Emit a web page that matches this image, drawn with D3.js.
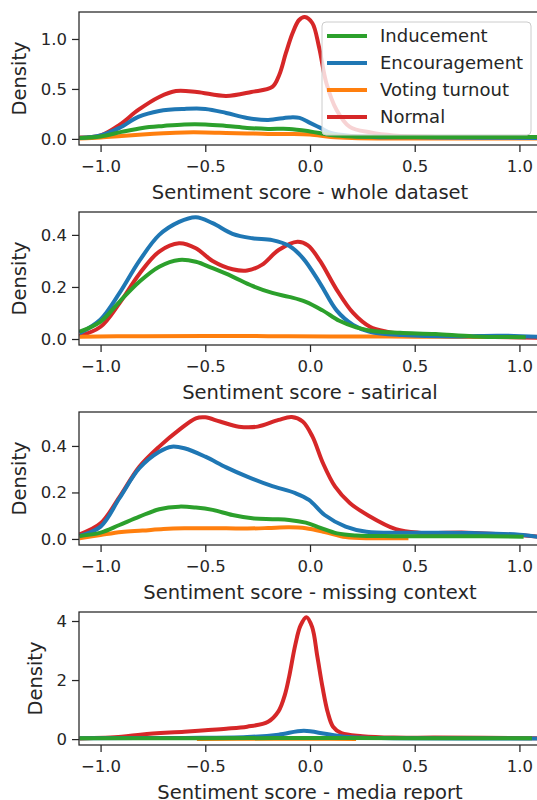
<!DOCTYPE html>
<html>
<head>
<meta charset="utf-8">
<script src="https://cdn.jsdelivr.net/npm/d3@7"></script>
<style>
	body { margin: 0; background: #fff; }
	text { font-family: "DejaVu Sans", sans-serif; fill: #262626; }
</style>
</head>
<body>
<script>

// legend order and colours (matplotlib tab10)
var categories = ["Inducement", "Encouragement", "Voting turnout", "Normal"];
var colors = ["#2ca02c", "#1f77b4", "#ff7f0e", "#d62728"];

var panelTitles = ["Sentiment score - whole dataset", "Sentiment score - satirical",
	"Sentiment score - missing context", "Sentiment score - media report"];

var xTicks = [-1.0, -0.5, 0.0, 0.5, 1.0];
var yTicks = [[0, 0.5, 1.0], [0, 0.2, 0.4], [0, 0.2, 0.4], [0, 2, 4]];
var yTickLabels = [["0.0", "0.5", "1.0"], ["0.0", "0.2", "0.4"], ["0.0", "0.2", "0.4"], ["0", "2", "4"]];
var yDomains = [[-0.061, 1.27], [-0.023, 0.488], [-0.026, 0.546], [-0.2, 4.305]];

// density curves, [score, density]
var wholeInducement = [[-1.1,0.01],[-1.0,0.025],[-0.9,0.07],[-0.8,0.11],[-0.7,0.13],[-0.6,0.145],[-0.5,0.145],[-0.4,0.13],[-0.3,0.11],[-0.2,0.1],[-0.1,0.1],[0.0,0.075],[0.1,0.04],[0.2,0.025],[0.4,0.02],[0.8,0.02],[1.1,0.02]];
var wholeEncouragement = [[-1.1,0.01],[-1.0,0.035],[-0.91,0.11],[-0.82,0.22],[-0.72,0.28],[-0.6,0.3],[-0.5,0.3],[-0.4,0.26],[-0.3,0.21],[-0.2,0.19],[-0.1,0.215],[-0.05,0.21],[0.0,0.16],[0.05,0.11],[0.1,0.06],[0.2,0.03],[0.3,0.02],[0.6,0.015],[1.1,0.01]];
var wholeTurnout = [[-1.1,0.005],[-1.0,0.015],[-0.9,0.03],[-0.8,0.045],[-0.7,0.057],[-0.6,0.065],[-0.5,0.065],[-0.4,0.06],[-0.3,0.055],[-0.2,0.05],[-0.1,0.05],[0.0,0.045],[0.1,0.02],[0.2,0.01],[0.4,0.005],[1.1,0.005]];
var wholeNormal = [[-1.1,0.013],[-1.0,0.035],[-0.91,0.14],[-0.82,0.29],[-0.72,0.42],[-0.64,0.48],[-0.54,0.47],[-0.4,0.43],[-0.28,0.47],[-0.18,0.52],[-0.147,0.64],[-0.115,0.86],[-0.083,1.06],[-0.052,1.19],[-0.025,1.22],[0.011,1.16],[0.043,0.92],[0.078,0.56],[0.127,0.29],[0.19,0.12],[0.29,0.065],[0.4,0.035],[0.6,0.02],[1.1,0.015]];

var satInducement = [[-1.1,0.028],[-1.0,0.067],[-0.91,0.143],[-0.815,0.22],[-0.72,0.278],[-0.625,0.304],[-0.545,0.297],[-0.465,0.272],[-0.37,0.24],[-0.275,0.204],[-0.18,0.177],[-0.1,0.162],[-0.02,0.143],[0.06,0.11],[0.14,0.07],[0.22,0.045],[0.31,0.03],[0.43,0.024],[0.6,0.019],[0.78,0.01],[1.03,0.007]];
var satEncouragement = [[-1.1,0.022],[-1.0,0.075],[-0.91,0.176],[-0.815,0.3],[-0.72,0.4],[-0.625,0.45],[-0.545,0.468],[-0.465,0.445],[-0.37,0.404],[-0.275,0.387],[-0.18,0.38],[-0.1,0.358],[-0.033,0.31],[0.048,0.214],[0.127,0.11],[0.206,0.054],[0.286,0.028],[0.44,0.015],[0.7,0.01],[0.9,0.013],[1.1,0.008]];
var satTurnout = [[-1.1,0.009],[-0.8,0.011],[-0.5,0.012],[-0.2,0.011],[0.1,0.01],[0.5,0.009],[0.91,0.008]];
var satNormal = [[-1.1,0.012],[-1.0,0.047],[-0.91,0.137],[-0.815,0.25],[-0.72,0.336],[-0.625,0.368],[-0.545,0.349],[-0.465,0.3],[-0.37,0.268],[-0.3,0.263],[-0.23,0.285],[-0.15,0.342],[-0.06,0.374],[-0.01,0.36],[0.048,0.3],[0.127,0.19],[0.206,0.1],[0.286,0.047],[0.366,0.028],[0.5,0.015],[0.7,0.01],[1.1,0.005]];

var ctxInducement = [[-1.1,0.013],[-1.0,0.027],[-0.91,0.06],[-0.815,0.096],[-0.72,0.128],[-0.625,0.139],[-0.545,0.135],[-0.465,0.125],[-0.37,0.103],[-0.275,0.089],[-0.18,0.085],[-0.1,0.082],[-0.02,0.07],[0.05,0.048],[0.13,0.024],[0.22,0.015],[0.4,0.012],[0.7,0.012],[1.02,0.01]];
var ctxEncouragement = [[-1.1,0.013],[-1.0,0.053],[-0.91,0.175],[-0.815,0.304],[-0.72,0.375],[-0.66,0.397],[-0.6,0.39],[-0.5,0.354],[-0.4,0.308],[-0.3,0.268],[-0.19,0.23],[-0.07,0.197],[-0.005,0.168],[0.07,0.103],[0.17,0.053],[0.27,0.031],[0.5,0.027],[0.8,0.025],[1.0,0.018],[1.1,0.008]];
var ctxTurnout = [[-1.1,0.003],[-1.0,0.017],[-0.9,0.03],[-0.8,0.036],[-0.7,0.043],[-0.6,0.046],[-0.4,0.046],[-0.3,0.045],[-0.2,0.047],[-0.1,0.05],[-0.02,0.046],[0.07,0.03],[0.17,0.008],[0.3,0.003],[0.47,0.003]];
var ctxNormal = [[-1.1,0.02],[-1.0,0.067],[-0.91,0.18],[-0.815,0.31],[-0.72,0.397],[-0.625,0.469],[-0.545,0.519],[-0.5,0.523],[-0.43,0.505],[-0.34,0.483],[-0.25,0.483],[-0.15,0.512],[-0.087,0.524],[-0.035,0.505],[0.012,0.44],[0.06,0.33],[0.12,0.225],[0.19,0.155],[0.28,0.1],[0.41,0.042],[0.52,0.027],[0.75,0.027],[0.98,0.017],[1.1,0.01]];

var mediaInducement = [[-1.1,0.025],[-0.5,0.03],[0.0,0.035],[0.5,0.03],[1.06,0.025]];
var mediaEncouragement = [[-1.1,0.03],[-0.6,0.04],[-0.3,0.07],[-0.15,0.15],[-0.03,0.28],[0.08,0.17],[0.2,0.06],[0.4,0.03],[1.1,0.02]];
var mediaTurnout = [[-0.54,0.005],[-0.2,0.01],[0.0,0.015],[0.22,0.005]];
var mediaNormal = [[-1.1,0.02],[-0.9,0.08],[-0.8,0.16],[-0.6,0.25],[-0.5,0.3],[-0.4,0.35],[-0.3,0.42],[-0.2,0.59],[-0.15,0.95],[-0.12,1.5],[-0.1,2.1],[-0.07,3.2],[-0.045,3.85],[-0.017,4.13],[0.01,3.8],[0.035,2.8],[0.06,1.75],[0.085,0.9],[0.11,0.42],[0.15,0.2],[0.25,0.1],[0.4,0.05],[0.6,0.05],[1.1,0.03]];

var panelSeries = [
	[wholeInducement, wholeEncouragement, wholeTurnout, wholeNormal],
	[satInducement, satEncouragement, satTurnout, satNormal],
	[ctxInducement, ctxEncouragement, ctxTurnout, ctxNormal],
	[mediaInducement, mediaEncouragement, mediaTurnout, mediaNormal]
];

var w = 537;
var h = 800;
var left = 79;
var right = 541;
var panelTop = [12, 212, 412, 612];
var panelH = 133;

var svg = d3.select("body")
			.append("svg")
			.attr("width", w)
			.attr("height", h);

var xScale = d3.scaleLinear()
			.domain([-1.103, 1.103])
			.range([left, right]);

// drawn back to front so green ends up on top
var drawOrder = [3, 2, 1, 0];

panelSeries.forEach(function(series, p){
	var top = panelTop[p];
	var bottom = top + panelH;

	var yScale = d3.scaleLinear()
				.domain(yDomains[p])
				.range([bottom, top]);

	var line = d3.line()
				.x(function(d){return xScale(d[0]);})
				.y(function(d){return yScale(d[1]);})
				.curve(d3.curveCatmullRom.alpha(0.5));

	svg.append("clipPath")
		.attr("id", "clip" + p)
		.append("rect")
		.attr("x", left)
		.attr("y", top)
		.attr("width", right - left)
		.attr("height", panelH);

	var g = svg.append("g").attr("clip-path", "url(#clip" + p + ")");

	drawOrder.forEach(function(i){
		g.append("path")
			.datum(series[i])
			.attr("d", line)
			.attr("fill", "none")
			.attr("stroke", colors[i])
			.attr("stroke-width", 4)
			.attr("stroke-linejoin", "round")
			.attr("stroke-linecap", "butt");
	});

	var xAxis = d3.axisBottom(xScale)
				.tickValues(xTicks)
				.tickFormat(d3.format(".1f"))
				.tickSize(7)
				.tickSizeOuter(0)
				.tickPadding(8);

	var yAxis = d3.axisLeft(yScale)
				.tickValues(yTicks[p])
				.tickFormat(function(d, i){return yTickLabels[p][i];})
				.tickSize(7)
				.tickSizeOuter(0)
				.tickPadding(5);

	var gx = svg.append("g")
		.attr("transform", "translate(0," + bottom + ")")
		.call(xAxis);
	var gy = svg.append("g")
		.attr("transform", "translate(" + left + ",0)")
		.call(yAxis);

	[gx, gy].forEach(function(a){
		a.select(".domain").remove();
		a.selectAll(".tick line").attr("stroke", "#262626").attr("stroke-width", 1.25);
		a.selectAll(".tick text")
			.attr("font-size", 16.5)
			.attr("font-family", "DejaVu Sans")
			.attr("fill", "#262626");
	});

	// frame
	svg.append("rect")
		.attr("x", left)
		.attr("y", top)
		.attr("width", right - left)
		.attr("height", panelH)
		.attr("fill", "none")
		.attr("stroke", "#262626")
		.attr("stroke-width", 1.25);

	svg.append("text")
		.attr("x", (left + right) / 2)
		.attr("y", bottom + 54)
		.attr("text-anchor", "middle")
		.attr("font-size", 19.5)
		.text(panelTitles[p]);

	// y label sits left of the widest tick label
	var minX = d3.min(gy.selectAll(".tick text").nodes(), function(n){
		return left - 12 - n.getComputedTextLength();
	});
	var cy = (top + bottom) / 2;
	svg.append("text")
		.attr("x", minX - 15)
		.attr("y", cy)
		.attr("text-anchor", "middle")
		.attr("font-size", 19.5)
		.attr("transform", "rotate(-90," + (minX - 15) + "," + cy + ")")
		.text("Density");
});

// legend in the first panel
var legend = svg.append("g");

legend.append("rect")
	.attr("x", 322)
	.attr("y", 22)
	.attr("width", 209)
	.attr("height", 113)
	.attr("rx", 4)
	.attr("fill", "white")
	.attr("fill-opacity", 0.8)
	.attr("stroke", "#cccccc")
	.attr("stroke-width", 1);

categories.forEach(function(c, i){
	var ly = 36 + i * 27;
	legend.append("line")
		.attr("x1", 327)
		.attr("x2", 367)
		.attr("y1", ly)
		.attr("y2", ly)
		.attr("stroke", colors[i])
		.attr("stroke-width", 4);
	legend.append("text")
		.attr("x", 380)
		.attr("y", ly)
		.attr("dy", "0.35em")
		.attr("font-size", 18)
		.text(c);
});

</script>
</body>
</html>
